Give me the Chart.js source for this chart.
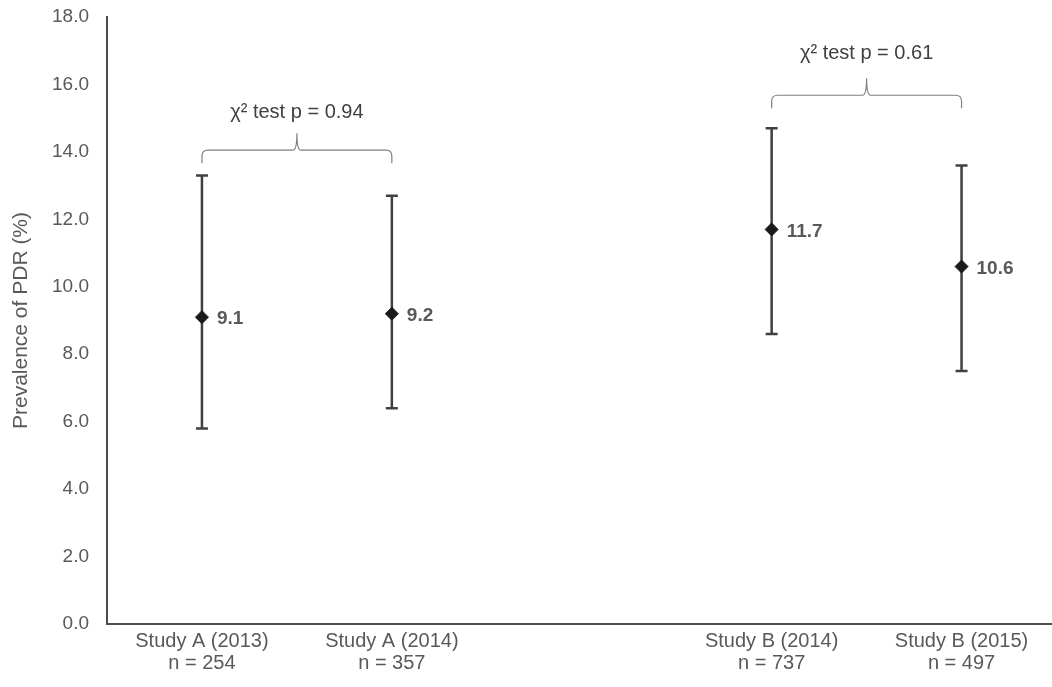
<!DOCTYPE html>
<html>
<head>
<meta charset="utf-8">
<title>Prevalence of PDR</title>
<script src="https://cdn.jsdelivr.net/npm/chart.js@4/dist/chart.umd.min.js"></script>
<style>
  html, body { margin: 0; padding: 0; background: #ffffff; overflow: hidden; }
  canvas { display: block; }
</style>
</head>
<body>
<canvas id="chart" width="1064" height="687"></canvas>
<script>
// Study cohorts (an empty slot separates Study A from Study B)
const studyNames  = ['Study A (2013)', 'Study A (2014)', '', 'Study B (2014)', 'Study B (2015)'];
const sampleSizes = ['n = 254', 'n = 357', '', 'n = 737', 'n = 497'];

// Prevalence of PDR (%) with 95% confidence limits
const prevalence = [9.1, 9.2, null, 11.7, 10.6];
const ciLower    = [5.8, 6.4, null, 8.6, 7.5];
const ciUpper    = [13.3, 12.7, null, 14.7, 13.6];

// Chi-square comparisons between the two years of each study
const testPairs  = [[0, 1], [3, 4]];
const testLabels = ['\u03C7\u00B2 test p = 0.94', '\u03C7\u00B2 test p = 0.61'];

const yMin = 0, yMax = 18, yStep = 2;

const labels = studyNames.map((s, i) => s ? [s, sampleSizes[i]] : '');

const FONT = "'Liberation Sans', Arial, sans-serif";
const TEXT = '#595959';

// Vertical confidence interval whiskers with caps
const errorBars = {
  id: 'errorBars',
  beforeDatasetsDraw(chart) {
    const { ctx, scales: { x, y } } = chart;
    ctx.save();
    ctx.strokeStyle = '#404040';
    ctx.lineWidth = 2.5;
    ciLower.forEach((lo, i) => {
      const hi = ciUpper[i];
      if (lo == null || hi == null) return;
      const px = x.getPixelForValue(i);
      const yl = y.getPixelForValue(lo);
      const yh = y.getPixelForValue(hi);
      ctx.beginPath();
      ctx.moveTo(px, yl); ctx.lineTo(px, yh);
      ctx.moveTo(px - 6, yh); ctx.lineTo(px + 6, yh);
      ctx.moveTo(px - 6, yl); ctx.lineTo(px + 6, yl);
      ctx.stroke();
    });
    ctx.restore();
  }
};

// Value labels to the right of each point
const valueLabels = {
  id: 'valueLabels',
  afterDatasetsDraw(chart) {
    const { ctx } = chart;
    const meta = chart.getDatasetMeta(0);
    ctx.save();
    ctx.fillStyle = TEXT;
    ctx.font = 'bold 19px ' + FONT;
    ctx.textAlign = 'left';
    ctx.textBaseline = 'middle';
    meta.data.forEach((pt, i) => {
      const v = prevalence[i];
      if (v == null) return;
      ctx.fillText(v.toFixed(1), pt.x + 15, pt.y + 2);
    });
    ctx.restore();
  }
};

// Curly brackets with the test result above each pair
const testBrackets = {
  id: 'testBrackets',
  afterDraw(chart, args, opts) {
    const { ctx, scales: { x, y } } = chart;
    ctx.save();
    testPairs.forEach(([a, b], k) => {
      const x1 = x.getPixelForValue(a);
      const x2 = x.getPixelForValue(b);
      const xm = (x1 + x2) / 2;
      const yb = y.getPixelForValue(opts.levels[k]);
      const drop = 13, notch = 17, r = 6;
      ctx.strokeStyle = '#7f7f7f';
      ctx.lineWidth = 1.2;
      ctx.beginPath();
      ctx.moveTo(x1, yb + drop);
      ctx.lineTo(x1, yb + r);
      ctx.quadraticCurveTo(x1, yb, x1 + r, yb);
      ctx.lineTo(xm - 4, yb);
      ctx.quadraticCurveTo(xm, yb, xm, yb - notch);
      ctx.quadraticCurveTo(xm, yb, xm + 4, yb);
      ctx.lineTo(x2 - r, yb);
      ctx.quadraticCurveTo(x2, yb, x2, yb + r);
      ctx.lineTo(x2, yb + drop);
      ctx.stroke();
      ctx.fillStyle = '#404040';
      ctx.font = '20px ' + FONT;
      ctx.textAlign = 'center';
      ctx.textBaseline = 'middle';
      ctx.fillText(testLabels[k], xm, yb - opts.textGap[k]);
    });
    ctx.restore();
  }
};

new Chart(document.getElementById('chart'), {
  type: 'line',
  data: {
    labels,
    datasets: [{
      data: prevalence,
      showLine: false,
      pointStyle: 'rectRot',
      pointRadius: 6.5,
      pointHoverRadius: 6.5,
      pointBackgroundColor: '#1a1a1a',
      pointBorderColor: '#1a1a1a',
      pointBorderWidth: 1
    }]
  },
  options: {
    responsive: false,
    animation: false,
    events: [],
    layout: { padding: { top: 17, right: 0, bottom: 0, left: 0 } },
    plugins: {
      legend: { display: false },
      tooltip: { enabled: false },
      testBrackets: { levels: [14.05, 15.68], textGap: [38, 42] }
    },
    scales: {
      x: {
        type: 'category',
        offset: true,
        grid: { display: false, drawTicks: false },
        border: { display: true, color: '#4d4d4d', width: 2 },
        ticks: {
          color: TEXT,
          font: { family: FONT, size: 20, lineHeight: 1.1 },
          padding: 6,
          maxRotation: 0,
          autoSkip: false
        },
        afterFit(scale) {
          scale.height = 63;
          scale.paddingLeft = 0;
          scale.paddingRight = 0;
        }
      },
      y: {
        min: yMin,
        max: yMax,
        grid: { display: false, drawTicks: false },
        border: { display: true, color: '#4d4d4d', width: 2 },
        ticks: {
          stepSize: yStep,
          color: TEXT,
          font: { family: FONT, size: 19 },
          padding: 18,
          callback: v => Number(v).toFixed(1)
        },
        title: {
          display: true,
          text: 'Prevalence of PDR (%)',
          color: TEXT,
          font: { family: FONT, size: 21 },
          padding: { top: 9, bottom: 0 }
        },
        afterFit(scale) {
          scale.width = 107;
          scale.paddingTop = 0;
          scale.paddingBottom = 0;
        }
      }
    }
  },
  plugins: [errorBars, valueLabels, testBrackets]
});
</script>
</body>
</html>
